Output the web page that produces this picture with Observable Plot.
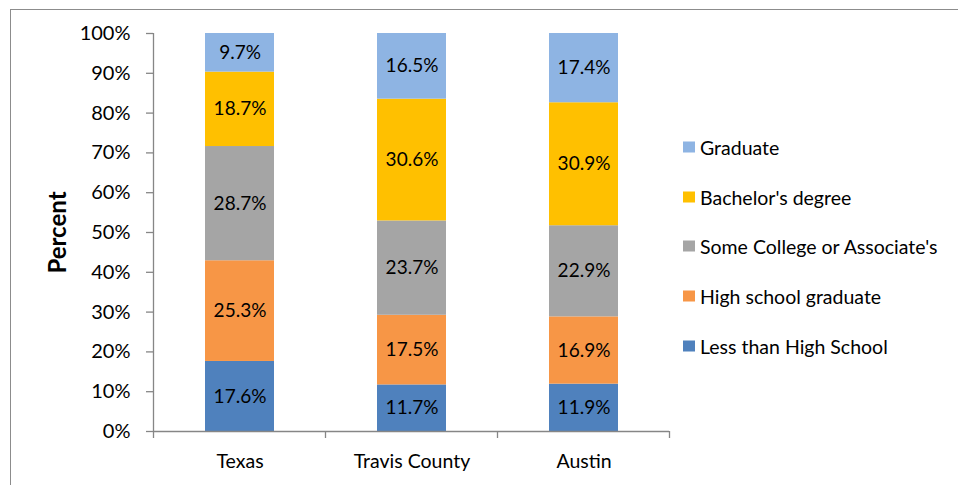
<!DOCTYPE html>
<html>
<head>
<meta charset="utf-8">
<script src="https://cdn.jsdelivr.net/npm/d3@7"></script>
<script src="https://cdn.jsdelivr.net/npm/@observablehq/plot@0.6"></script>
<style>
  html, body { margin: 0; padding: 0; background: #fff; }
  #wrap { position: relative; width: 958px; height: 485px; overflow: hidden; font-family: Lato, "Open Sans", sans-serif; }
  #border { position: absolute; left: 10px; top: 9px; width: 2000px; height: 2000px; border-left: 1.5px solid #8c8c8c; border-top: 1.5px solid #8c8c8c; }
  #chart { position: absolute; left: 0; top: 0; }
  #legend { position: absolute; left: 683px; top: 0; }
  .item { position: absolute; left: 0; white-space: nowrap; font-size: 19.5px; color: #000; display: flex; align-items: center; transform: translateY(-50%); }
  .sw { width: 12px; height: 11px; margin-right: 5px; }
</style>
</head>
<body>
<div id="wrap">
  <div id="border"></div>
  <div id="chart"></div>
  <div id="legend"></div>
</div>
<script>
const categories = ["Texas", "Travis County", "Austin"];
const series = ["Less than High School", "High school graduate", "Some College or Associate's", "Bachelor's degree", "Graduate"];
const lessThanHighSchool = [17.6, 11.7, 11.9];
const highSchoolGraduate = [25.3, 17.5, 16.9];
const someCollege = [28.7, 23.7, 22.9];
const bachelors = [18.7, 30.6, 30.9];
const graduate = [9.7, 16.5, 17.4];
const colors = ["#4F81BD", "#F79646", "#A5A5A5", "#FFC000", "#8EB4E3"];
const yTicks = [0, 10, 20, 30, 40, 50, 60, 70, 80, 90, 100];
const legendOrder = ["Graduate", "Bachelor's degree", "Some College or Associate's", "High school graduate", "Less than High School"];
const legendY = [147, 197, 246, 296, 346];

const seriesValues = [lessThanHighSchool, highSchoolGraduate, someCollege, bachelors, graduate];
const data = [];
categories.forEach((c, ci) => {
  series.forEach((s, si) => data.push({category: c, series: s, value: seriesValues[si][ci]}));
});

const axisColor = "#868686";
const chart = Plot.plot({
  width: 958,
  height: 485,
  marginLeft: 153,
  marginRight: 289,
  marginTop: 33,
  marginBottom: 54,
  style: {fontFamily: "Lato, 'Open Sans', sans-serif", background: "transparent", color: "#000"},
  x: {domain: categories, paddingInner: 0.6, paddingOuter: 0.3, label: null, axis: null},
  y: {domain: [0, 100], label: null, axis: null},
  color: {domain: series, range: colors},
  marks: [
    Plot.barY(data, Plot.stackY({x: "category", y: "value", fill: "series"})),
    Plot.text(data, Plot.stackY({x: "category", y: "value", text: d => d.value.toFixed(1) + "%", fontSize: 19, fill: "#000"})),
    Plot.axisY({ticks: yTicks, tickFormat: d => d + "%", tickSize: 7, tickPadding: 16, fontSize: 20, stroke: axisColor, strokeOpacity: 1, strokeWidth: 1.3, fill: "#000"}),
    Plot.axisX({tickSize: 0, tickPadding: 23, fontSize: 19.5, fill: "#000"}),
    Plot.ruleY([0], {stroke: axisColor, strokeWidth: 1.3}),
    Plot.text(["Percent"], {frameAnchor: "left", textAnchor: "middle", dx: -95, rotate: -90, fontWeight: "bold", fontSize: 24, fill: "#000"})
  ]
});
document.getElementById("chart").appendChild(chart);

// Excel-style axis line and category boundary ticks, from the chart's own scales
const xs = chart.scale("x");
const ys = chart.scale("y");
const svg = d3.select(chart);
const y0 = ys.apply(0), y100 = ys.apply(100);
const bounds = categories.map(c => xs.apply(c) - (xs.step - xs.bandwidth) / 2);
bounds.push(bounds[bounds.length - 1] + xs.step);
svg.append("line").attr("x1", bounds[0]).attr("x2", bounds[0]).attr("y1", y100).attr("y2", y0)
  .attr("stroke", axisColor).attr("stroke-width", 1.3);
bounds.forEach(b => {
  svg.append("line").attr("x1", b).attr("x2", b).attr("y1", y0).attr("y2", y0 + 7)
    .attr("stroke", axisColor).attr("stroke-width", 1.3);
});

// Legend
const legend = document.getElementById("legend");
legendOrder.forEach((s, i) => {
  const item = document.createElement("div");
  item.className = "item";
  item.style.top = legendY[i] + "px";
  const sw = document.createElement("div");
  sw.className = "sw";
  sw.style.background = colors[series.indexOf(s)];
  const t = document.createElement("span");
  t.textContent = s;
  item.appendChild(sw);
  item.appendChild(t);
  legend.appendChild(item);
});
</script>
</body>
</html>
